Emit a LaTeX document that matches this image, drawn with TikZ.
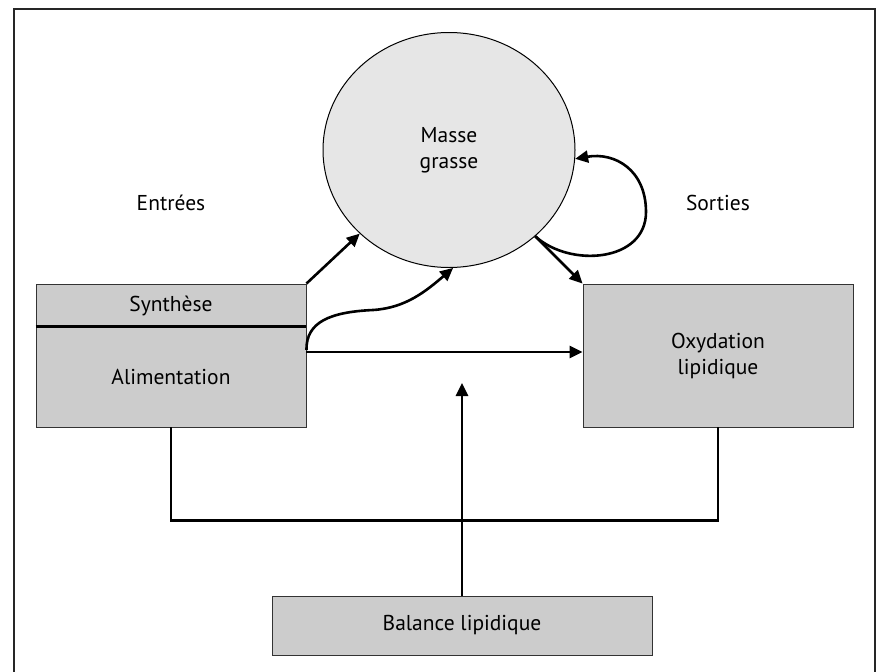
\documentclass[tikz,border=0pt]{standalone}
\usepackage{fontspec}
\setmainfont{PT Sans}
\usetikzlibrary{shapes.geometric,arrows.meta,calc}
\definecolor{boxfill}{HTML}{CCCCCC}
\definecolor{circfill}{HTML}{E6E6E6}
\begin{document}
\begin{tikzpicture}[x=1pt,y=-1pt,
  every node/.style={font=\fontsize{21.5}{26}\selectfont, align=center, inner sep=0pt, text=black},
  boxnode/.style={draw=black!80, line width=0.9pt, fill=boxfill},
  arr/.style={line width=2.6pt, -{Triangle[length=13pt,width=12pt]}},
  conn/.style={line width=2.6pt},
  frameline/.style={line width=1.8pt, draw=black!85}]
\useasboundingbox (0,0) rectangle (876,672);
\draw[frameline] (14,672) -- (14,9) -- (875,9) -- (875,672);

\node[ellipse, draw=black, line width=1pt, fill=circfill,
      minimum width=252pt, minimum height=235pt] (masse) at (449,150) {Masse\\grasse};

\node[boxnode, minimum width=270pt, minimum height=43pt] (synth) at (171,305.5) {Synthèse};
\node[boxnode, minimum width=270pt, minimum height=100pt] (alim) at (171,377) {Alimentation};
\draw[line width=2.2pt] (alim.north west) -- (alim.north east);

\node[boxnode, minimum width=270pt, minimum height=143pt] (oxy) at (718,355.5) {Oxydation\\lipidique};
\node[boxnode, minimum width=380pt, minimum height=59pt] (bal) at (462,625.5) {Balance lipidique};

\node (entrees) at (171,203) {Entrées};
\node (sorties) at (718,203) {Sorties};

% inputs
\draw[arr] (synth.north east) -- (masse);
\coordinate (h) at (alim.east |- 0,352);
\draw[arr] (h) -- (h -| oxy.west);
\draw[arr] ($(h)+(0,-2)$) .. controls (306,322) and (330,312) .. (373,310)
           .. controls (405,308) and (425,292) .. (masse.-88);

% outputs
\draw[arr] (masse) -- (oxy.north west);
\draw[arr] (masse.-45) .. controls (570,268) and (646,262) .. (646,212)
           .. controls (646,170) and (615,152) .. (masse.-4);

% balance
\draw[conn] (alim.south) -- ++(0,93) -| (oxy.south);
\coordinate (bt) at (462,383);
\draw[arr] (bal.north) -- (bt);
\end{tikzpicture}
\end{document}
